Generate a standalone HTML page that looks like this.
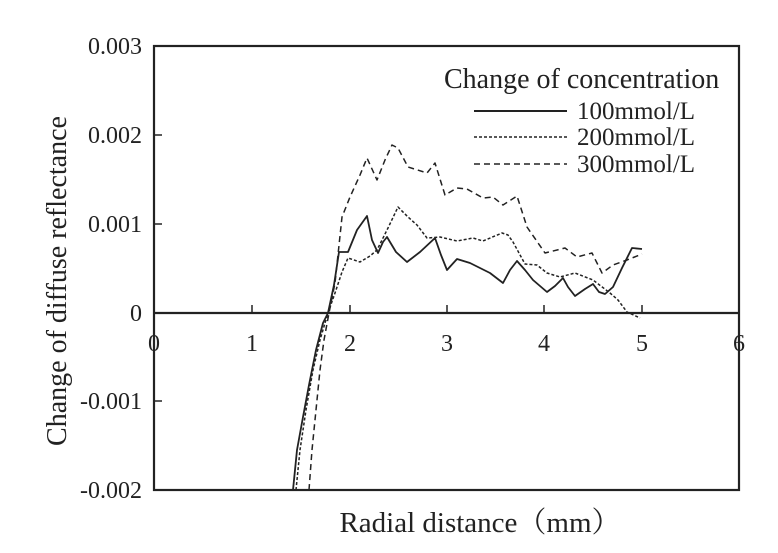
<!DOCTYPE html>
<html><head><style>
html,body{margin:0;padding:0;background:#fff;}
svg{display:block;font-family:"Liberation Serif","Noto Serif CJK SC",serif;}
</style></head><body>
<svg width="778" height="553" viewBox="0 0 778 553" xmlns="http://www.w3.org/2000/svg">
<rect width="778" height="553" fill="#fff"/>
<g stroke="#222" stroke-width="2.2" fill="none">
<rect x="154" y="46" width="585" height="444"/>
<line x1="154" y1="313" x2="739" y2="313"/>
</g>
<g stroke="#222" stroke-width="1.5">
<line x1="154" y1="135" x2="162" y2="135"/>
<line x1="154" y1="224" x2="162" y2="224"/>
<line x1="154" y1="401" x2="162" y2="401"/>
<line x1="252" y1="313" x2="252" y2="305"/>
<line x1="350" y1="313" x2="350" y2="305"/>
<line x1="447" y1="313" x2="447" y2="305"/>
<line x1="544" y1="313" x2="544" y2="305"/>
<line x1="642" y1="313" x2="642" y2="305"/>
</g>
<g font-size="24" fill="#222" text-anchor="end">
<text x="142" y="54">0.003</text>
<text x="142" y="143">0.002</text>
<text x="142" y="232">0.001</text>
<text x="142" y="321">0</text>
<text x="142" y="409">-0.001</text>
<text x="142" y="498">-0.002</text>
</g>
<g font-size="24" fill="#222" text-anchor="middle">
<text x="154" y="351">0</text>
<text x="252" y="351">1</text>
<text x="350" y="351">2</text>
<text x="447" y="351">3</text>
<text x="544" y="351">4</text>
<text x="642" y="351">5</text>
<text x="739" y="351">6</text>
</g>
<text x="480" y="532" font-size="29" fill="#222" text-anchor="middle">Radial distance（mm）</text>
<text transform="translate(66,281) rotate(-90)" font-size="28" fill="#222" text-anchor="middle">Change of diffuse reflectance</text>
<text x="444" y="88" font-size="28" fill="#222">Change of concentration</text>
<g stroke="#222" fill="none">
<line x1="474" y1="111" x2="567" y2="111" stroke-width="2"/>
<line x1="474" y1="137" x2="567" y2="137" stroke-width="1.5" stroke-dasharray="3,2"/>
<line x1="474" y1="164" x2="567" y2="164" stroke-width="1.5" stroke-dasharray="6,4"/>
</g>
<g font-size="25" fill="#222">
<text x="577" y="119">100mmol/L</text>
<text x="577" y="145">200mmol/L</text>
<text x="577" y="172">300mmol/L</text>
</g>
<g fill="none" stroke="#222" stroke-linejoin="round">
<polyline stroke-width="1.8" points="293,490 297,450 303,417 309,385 316,350 323,323 328,313 334,285 339,252 348,252 357,230 367,216 372,240 378,253 383,242 387,237 396,252 407,262 420,252 435,238 441,255 447,270 457,259 470,263 480,268 490,273 503,283 510,270 517,261 525,270 533,280 547,292 555,286 563,278 568,287 575,296 585,289 593,284 599,292 605,294 613,287 622,268 632,248 642,249"/>
<polyline stroke-width="1.5" stroke-dasharray="3,2" points="296,490 300,450 306,410 313,370 320,340 328,313 335,293 342,272 348,258 360,262 370,256 377,250 388,228 398,207 408,217 417,225 427,238 440,237 457,241 473,238 483,241 502,233 508,235 513,242 525,264 537,265 547,273 560,277 575,273 593,280 610,293 618,300 627,312 640,318"/>
<polyline stroke-width="1.5" stroke-dasharray="6,4" points="309,490 312,450 316,410 320,370 324,340 329,313 335,283 342,217 350,197 360,175 367,158 377,180 385,160 392,145 398,148 408,167 427,173 435,163 445,195 457,188 467,189 483,198 493,197 503,205 517,196 527,227 545,253 565,248 577,257 592,253 602,273 613,265 627,260 642,254"/>
</g>
</svg>
</body></html>
